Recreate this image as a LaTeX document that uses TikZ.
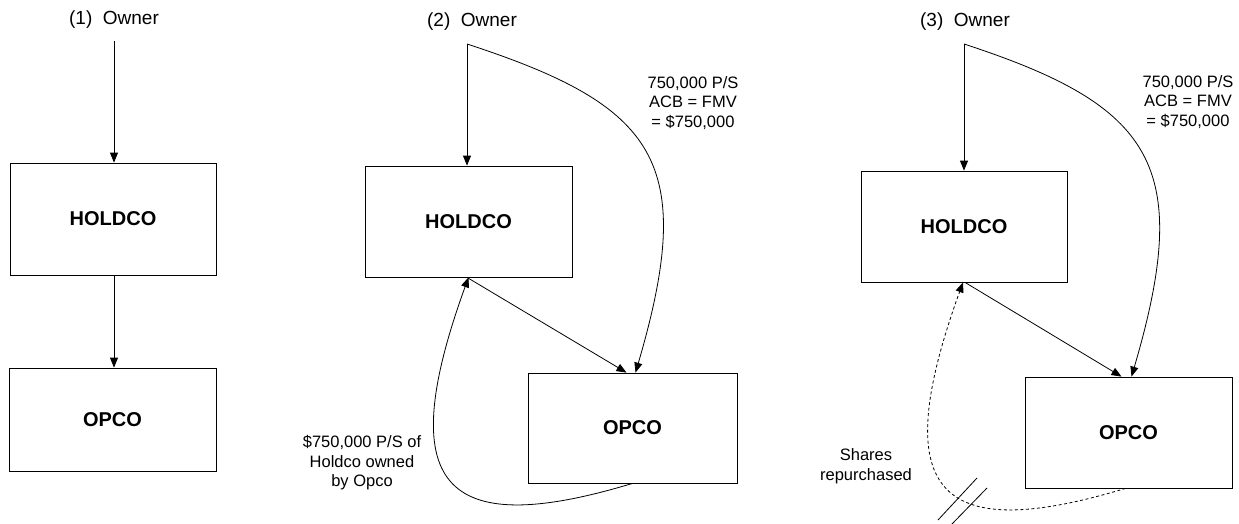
\documentclass[tikz,border=0pt]{standalone}
\usepackage{fontspec}
\setmainfont{Liberation Sans}
\usetikzlibrary{arrows.meta}
\begin{document}
\begin{tikzpicture}[x=1pt,y=-1pt,
  box/.style={draw, line width=0.8pt, inner sep=0pt, font=\fontsize{20}{24}\selectfont\bfseries},
  ownerlbl/.style={font=\fontsize{19}{23}\selectfont, inner sep=0pt},
  note/.style={font=\fontsize{16.5}{19.5}\selectfont, align=center, inner sep=0pt},
  conn/.style={line width=0.8pt, -{Triangle[length=10pt,width=8pt]}},
  dconn/.style={conn, dash pattern=on 3pt off 2.5pt},
  slashline/.style={line width=0.8pt}
]
\useasboundingbox (0,0) rectangle (1239,523);

% Panel 1
\node[ownerlbl] (t1) at (114,20) {(1)\ \ Owner};
\coordinate (s1) at (114,41);
\node[box, minimum width=206pt, minimum height=112pt] (h1) at (113,219) {HOLDCO};
\node[box, minimum width=207pt, minimum height=103pt] (p1) at (112.5,419.5) {OPCO};
\draw[conn] (s1) -- (s1 |- h1.north);
\draw[conn] ([xshift=1pt]h1.south) -- ([xshift=1pt]h1.south |- p1.north);

% Panel 2
\node[ownerlbl] (t2) at (472,22) {(2)\ \ Owner};
\coordinate (s2) at (467,44);
\node[box, minimum width=207pt, minimum height=111pt] (h2) at (468.5,221.5) {HOLDCO};
\node[box, minimum width=209pt, minimum height=110pt] (p2) at (632.5,428) {OPCO};
\draw[conn] (s2) -- (s2 |- h2.north);
\draw[conn] (s2) .. controls +(190,62) and +(62,-211) .. ([xshift=3pt]p2.north);
\draw[conn] ([xshift=-1.5pt]h2.south) -- ([xshift=-6pt]p2.north);
\draw[conn] (p2.south) .. controls +(-192,58) and +(-75,207) .. (h2.south);
\node[note] (l2) at (693,103) {750,000 P/S\\ACB = FMV\\= \$750,000};
\node[note] (l2b) at (362,463) {\$750,000 P/S of\\Holdco owned\\by Opco};

% Panel 3
\node[ownerlbl] (t3) at (965,22) {(3)\ \ Owner};
\coordinate (s3) at (964,44);
\node[box, minimum width=206pt, minimum height=111pt] (h3) at (964,226.5) {HOLDCO};
\node[box, minimum width=207pt, minimum height=111pt] (p3) at (1128.5,432.5) {OPCO};
\draw[conn] (s3) -- (s3 |- h3.north);
\draw[conn] (s3) .. controls +(190,62) and +(62,-211) .. ([xshift=3pt]p3.north);
\draw[conn] ([xshift=1pt]h3.south) -- ([xshift=-7pt]p3.north);
\draw[dconn] ([xshift=-3pt]p3.south) .. controls +(-192,58) and +(-75,207) .. ([xshift=-1pt]h3.south);
\node[note] (l3) at (1188,102) {750,000 P/S\\ACB = FMV\\= \$750,000};
\node[note] (l3b) at (866,466) {Shares\\repurchased};
\coordinate (ma1) at (938,520);
\coordinate (ma2) at (977,478);
\coordinate (mb1) at (951,525);
\coordinate (mb2) at (987,488);
\draw[slashline] (ma1) -- (ma2);
\draw[slashline] (mb1) -- (mb2);
\end{tikzpicture}
\end{document}
